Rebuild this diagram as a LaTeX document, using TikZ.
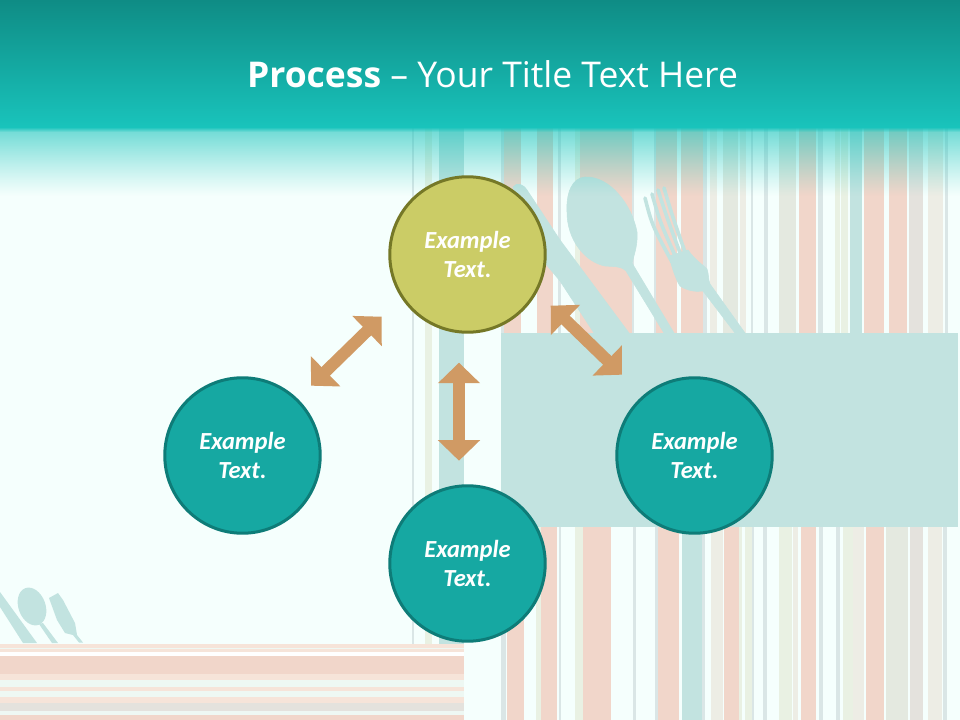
\documentclass[tikz,border=0pt]{standalone}
\usepackage{fontspec}
\setmainfont{Open Sans}
\newfontfamily\carlito{Carlito}
\usetikzlibrary{arrows.meta}
\definecolor{bgm}{HTML}{F5FFFD}
\definecolor{pk}{HTML}{F1D6CA}
\definecolor{tl}{HTML}{C2E3E0}
\definecolor{gy}{HTML}{DAE6E6}
\definecolor{lg}{HTML}{E9F1E3}
\definecolor{lp}{HTML}{EDEDE5}
\definecolor{gg}{HTML}{E4E9E0}
\definecolor{dp}{HTML}{E4E2DD}
\definecolor{mint}{HTML}{EEF8F3}
\definecolor{pl}{HTML}{F6E4D9}
\definecolor{hdtop}{HTML}{0F8C85}
\definecolor{hdbot}{HTML}{19C4BC}
\definecolor{tealfill}{HTML}{16A8A2}
\definecolor{tealline}{HTML}{0E7C78}
\definecolor{olivefill}{HTML}{CBCC66}
\definecolor{oliveline}{HTML}{757827}
\definecolor{arrowc}{HTML}{D09A64}
\tikzset{
  cutlery/.style={fill=tl,draw=tl,line width=0.4pt},
  tine/.style={draw=tl,line width=2.7pt,line cap=round},
  bubble/.style={circle,minimum size=116.6pt,line width=2.25pt,inner sep=0pt,text=white,align=center,
    font=\carlito\fontsize{18.4}{21.75}\selectfont\bfseries\itshape},
  tealbubble/.style={bubble,fill=tealfill,draw=tealline},
  olivebubble/.style={bubble,fill=olivefill,draw=oliveline},
  blockarrow/.style={draw=arrowc,line width=9pt,
    {Triangle[length=15.4pt,width=30.75pt]}-{Triangle[length=15.4pt,width=30.75pt]}},
  titletext/.style={text=white,font=\fontsize{26.6}{30}\selectfont,inner sep=0pt}
}
\begin{document}
\begin{tikzpicture}[x=0.75pt,y=-0.75pt]
\useasboundingbox (0,0) rectangle (960,720);
\fill[bgm] (0,0) rectangle (960,720);
% long stripes left of the table
\foreach \a/\b/\c in {412/414/gy,425/432/lg,439/464/tl}
  \fill[\c] (\a,128) rectangle (\b,644);
% upper stripes
\foreach \a/\b/\c in {501/504/gy,504/521/pk,537/553/pk,558/561/gy,575/580/lg,580/632/pk,632/634/gy,654/656/gy,656/677/pk,681/703/pk,703/707/gy,710/717/lp,723/738/gg,740/746/lp,751/753/gy,764/768/gy,779/796/gg,799/816/pk,818/823/gy,835/840/lg,841/848/lg,850/862/tl,864/884/pk,889/907/pk,909/923/dp,928/943/lp,945/948/gy}
  \fill[\c] (\a,128) rectangle (\b,334);
% lower stripes
\foreach \a/\b/\c in {501/506/gy,507/524/pk,536/541/lg,541/557/pk,559/561/gy,575/583/lg,583/611/pk,633/636/gy,655/658/gy,658/679/pk,682/702/tl,702/705/gy,711/723/lp,724/739/pk,739/742/lg,745/752/lg,752/754/gy,763/767/gy,779/792/lg,793/798/lp,801/816/pk,819/823/gy,836/840/gy,843/853/lg,853/864/lp,866/884/pk,886/908/gg,910/923/dp,928/942/lp,943/947/gy}
  \fill[\c] (\a,526) rectangle (\b,720);
% table cloth
\fill[tl] (501,333) rectangle (958,527);
% large cutlery
\path[cutlery] (513,187) .. controls (517,182) and (523,184) .. (527,190) -- (560,240) -- (629,333) -- (594,333) -- (560,281) -- (530,245) -- cycle;
\path[cutlery] (585,177) .. controls (610,176) and (632,205) .. (637,232) .. controls (638,245) and (634,255) .. (632,263) -- (674,333) -- (664,333) -- (626,271) .. controls (620,265) and (612,267) .. (605,266) .. controls (585,262) and (567,240) .. (567,212) .. controls (566,193) and (572,178) .. (585,177) -- cycle;
\draw[tine] (645,198) .. controls (652,225) .. (672,262);
\draw[tine] (652,194) .. controls (660,222) .. (677,260);
\draw[tine] (658,190) .. controls (667,218) .. (682,258);
\draw[tine] (664,188) .. controls (672,215) .. (686,255);
\path[cutlery] (669,256) -- (688,250) .. controls (695,260) and (702,264) .. (707,269) .. controls (709,275) and (708,279) .. (710,284) -- (745,333) -- (735,333) -- (703,291) .. controls (696,292) and (688,291) .. (680,286) .. controls (676,280) and (672,268) .. (669,256) -- cycle;
% small cutlery
\fill[tl] (0,592) -- (37,643) -- (23,643) -- (0,607) -- cycle;
\fill[tl,shift={(32,606.5)},rotate=-70] (0,0) ellipse [x radius=19.5,y radius=13.5];
\fill[tl] (39,624) -- (43,623) -- (58,643) -- (52,643) -- cycle;
\fill[tl] (49,598) -- (58,593) -- (63,600) -- (75,623) -- (77,635) -- (83,642.5) -- (79,642.5) -- (73,635) -- (65,633) -- (57,620) -- cycle;
% bottom-left horizontal stripes
\fill[mint] (0,644) rectangle (464,720);
\foreach \a/\b/\c in {644/647.5/pl,648.5/652/pl,652/656/white,656/674/pk,674/680/pl,680/687/mint,687/691/pl,691/697/mint,697/703/pl,703/711/dp,711/715/mint,715/720/pk}
  \fill[\c] (0,\a) rectangle (464,\b);
% fade under the header
\foreach \i in {0,...,67}{
  \pgfmathsetmacro{\op}{0.62*(1-\i/68)^1.15+0.3*max(0,1-\i/4)}
  \fill[hdbot,opacity=\op] (0,128+\i) rectangle (960,129+\i);
}
% header
\shade[top color=hdtop,bottom color=hdbot] (0,0) rectangle (960,128);
\node[titletext,anchor=base] (title) at (492.5,88) {\textbf{Process} – Your Title Text Here};
% circles
\node[olivebubble] (top) at (467.5,254.5) {Example\\Text.};
\node[tealbubble] (left) at (242.5,455.5) {Example\\Text.};
\node[tealbubble] (right) at (694.5,455.5) {Example\\Text.};
\node[tealbubble] (bottom) at (467.5,563.5) {Example\\Text.};
% block arrows
\coordinate (al1) at (381.7,316.7);
\coordinate (al2) at (311,385.7);
\coordinate (ar1) at (550.7,305.7);
\coordinate (ar2) at (622,374.7);
\coordinate (av1) at (459,362.7);
\coordinate (av2) at (459,460.7);
\draw[blockarrow] (al1) -- (al2);
\draw[blockarrow] (ar1) -- (ar2);
\draw[blockarrow] (av1) -- (av2);
\end{tikzpicture}
\end{document}
